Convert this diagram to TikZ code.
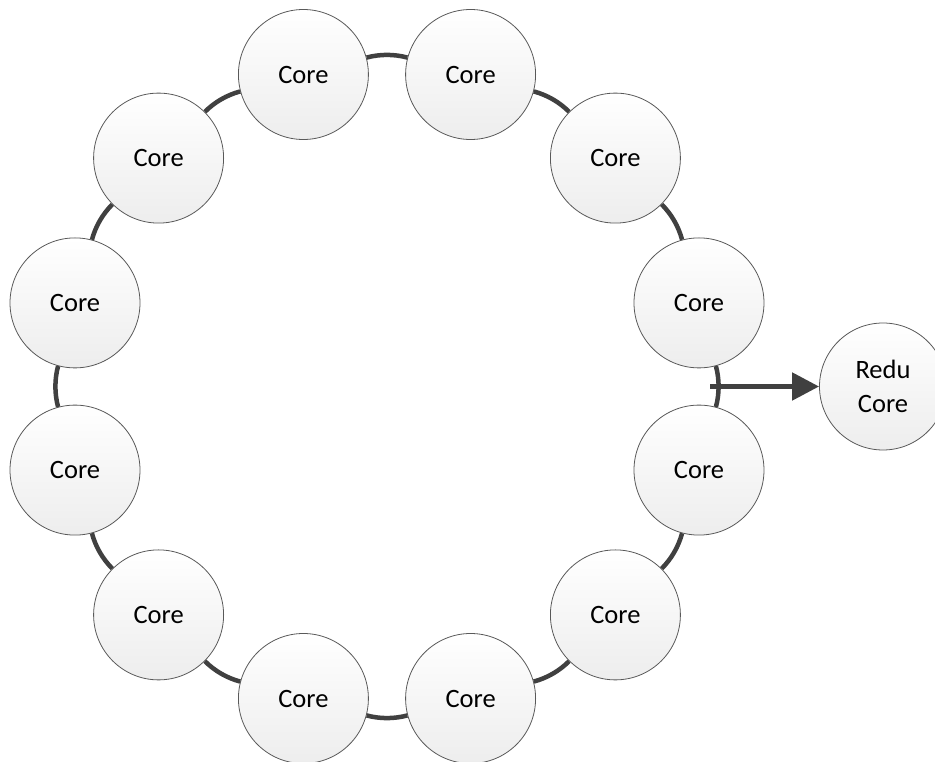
\documentclass[tikz,border=0pt]{standalone}
\usepackage{fontspec}
\setmainfont{Carlito}
\usetikzlibrary{arrows.meta}
\definecolor{linkgray}{HTML}{404040}
\definecolor{rimgray}{HTML}{595959}
\begin{document}
\begin{tikzpicture}[x=1pt,y=1pt,
  core/.style={circle, draw=rimgray, line width=0.8pt, top color=white,
    bottom color=black!7, minimum size=130pt, inner sep=0pt,
    font=\fontsize{26.5}{34}\selectfont, align=center},
  link/.style={draw=linkgray, line width=4.5pt},
]
\useasboundingbox (0,0) rectangle (935,761);
% ring of twelve cores around the hub point (387,374.5)
\foreach \i in {0,...,11} {
  \node[core] (c\i) at ({387+323*cos(15+30*\i)},{374.5+323*sin(15+30*\i)}) {Core};
}
% arcs of the ring between neighbouring cores
\foreach \i [evaluate=\i as \j using {int(mod(\i+1,12))}] in {0,...,11} {
  \draw[link] (c\i) to[bend right=15, looseness=0.866] (c\j);
}
% reduction core fed from the ring
\node[core, minimum size=127pt] (redu) at (883,374.5) {Redu\\Core};
\coordinate (tap) at (710,374.5);
\draw[link, line width=5pt, -{Triangle[length=27pt,width=27pt]}] (tap) -- (redu);
\end{tikzpicture}
\end{document}
